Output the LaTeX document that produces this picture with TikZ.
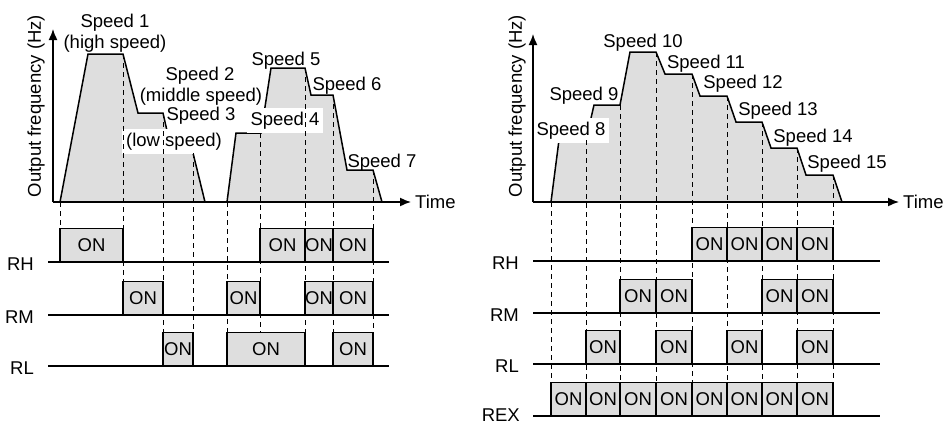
\documentclass[tikz,border=0pt]{standalone}
\usepackage{fontspec}
\setmainfont{Liberation Sans}
\usetikzlibrary{arrows.meta}

\begin{document}
\begin{tikzpicture}[x=1pt,y=-1pt,
  every node/.style={font=\fontsize{18.5}{21}\selectfont, inner sep=1pt},
  axis/.style={line width=1.5pt, -{Latex[length=11pt,width=9pt]}},
  wave/.style={fill=gray!26},
  outline/.style={line width=1.5pt, line join=miter},
  dashline/.style={line width=0.9pt, dash pattern=on 5pt off 4pt},
  sigline/.style={line width=2.4pt},
  onbox/.style={draw, fill=gray!26, line width=1.5pt, inner sep=0pt, minimum height=33pt, anchor=south},
  whitebox/.style={fill=white, inner xsep=4pt, inner ysep=4pt, anchor=base},
  spd/.style={anchor=base}]
\useasboundingbox (0,0) rectangle (946,424);

% left picture: speeds 1 to 7
\fill[wave] (60,202) -- (88,54) -- (123,54) -- (138,113) -- (163,113) -- (172,153) -- (193,153) -- (205,202) -- cycle;
\fill[wave] (227,202) -- (236,133) -- (261,133) -- (271,68) -- (305,68) -- (311,95) -- (333,95) -- (347,170) -- (373,170) -- (382,202) -- cycle;
\draw[outline] (60,202) -- (88,54) -- (123,54) -- (138,113) -- (163,113) -- (172,153) -- (193,153) -- (205,202);
\draw[outline] (227,202) -- (236,133) -- (261,133) -- (271,68) -- (305,68) -- (311,95) -- (333,95) -- (347,170) -- (373,170) -- (382,202);

\node[spd] (s1) at (115,27) {Speed 1};
\node[spd] (s1b) at (115,48) {(high speed)};
\node[spd] (s2) at (200,80) {Speed 2};
\node[spd] (s2b) at (201,101) {(middle speed)};
\node[spd] (s3) at (201,120) {Speed 3};
\node[whitebox] (s3b) at (174,146) {(low speed)};
\node[whitebox] (s4) at (285,125) {Speed 4};
\node[spd] (s5) at (286,65) {Speed 5};
\node[spd] (s6) at (347,90) {Speed 6};
\node[spd] (s7) at (382,167) {Speed 7};

\foreach \x/\t/\b in {60/202/229, 123/54/281, 163/113/332, 193/153/332, 227/202/332,
  260/133/332, 305/68/332, 333/95/332, 373/170/332}
  \draw[dashline] (\x,\t) -- (\x,\b);

\coordinate (lo) at (53,202);
\coordinate (ltop) at (53,29);
\coordinate (lend) at (411,202);
\draw[axis] (lo) -- (ltop);
\draw[axis] (lo) -- (lend);
\node[anchor=west] (ltime) at (414,202) {Time};
\node[rotate=90] (lylab) at (36,106) {Output frequency (Hz)};

\coordinate (lrh0) at (48,262);  \coordinate (lrh1) at (389,262);
\coordinate (lrm0) at (48,315);  \coordinate (lrm1) at (389,315);
\coordinate (lrl0) at (48,366);  \coordinate (lrl1) at (389,366);
\draw[sigline] (lrh0) -- (lrh1);
\draw[sigline] (lrm0) -- (lrm1);
\draw[sigline] (lrl0) -- (lrl1);
\node[anchor=east] (lrh) at (35,264) {RH};
\node[anchor=east] (lrm) at (35,317) {RM};
\node[anchor=east] (lrl) at (35,368) {RL};

\foreach \a/\b [count=\i] in {60/123, 260/305, 305/333, 333/373}
  \node[onbox, minimum width={(\b-\a)*1pt}] (lonh\i) at ({(\a+\b)/2},262) {ON};
\foreach \a/\b [count=\i] in {123/163, 227/260, 305/333, 333/373}
  \node[onbox, minimum width={(\b-\a)*1pt}] (lonm\i) at ({(\a+\b)/2},315) {ON};
\foreach \a/\b [count=\i] in {163/193, 227/305, 333/373}
  \node[onbox, minimum width={(\b-\a)*1pt}] (lonl\i) at ({(\a+\b)/2},366) {ON};

% right picture: speeds 8 to 15
\fill[wave] (551,202) -- (559,140) -- (586,140) -- (594,105) -- (620,105) -- (630,52) -- (656,52) -- (665,74) -- (692,74) -- (700,96) -- (727,96) -- (736,122) -- (762,122) -- (771,148) -- (797,148) -- (806,175) -- (833,175) -- (842,202) -- cycle;
\draw[outline] (551,202) -- (559,140) -- (586,140) -- (594,105) -- (620,105) -- (630,52) -- (656,52) -- (665,74) -- (692,74) -- (700,96) -- (727,96) -- (736,122) -- (762,122) -- (771,148) -- (797,148) -- (806,175) -- (833,175) -- (842,202);

\node[whitebox] (s8) at (571,135) {Speed 8};
\node[spd] (s9) at (584,100) {Speed 9};
\node[spd] (s10) at (643,47) {Speed 10};
\node[spd] (s11) at (706,68) {Speed 11};
\node[spd] (s12) at (743,88) {Speed 12};
\node[spd] (s13) at (778,115) {Speed 13};
\node[spd] (s14) at (813,142) {Speed 14};
\node[spd] (s15) at (847,168) {Speed 15};

\foreach \x/\t in {551/202, 586/140, 620/105, 656/52, 692/74, 727/96, 762/122, 797/148, 833/175}
  \draw[dashline] (\x,\t) -- (\x,383);

\coordinate (ro) at (533,202);
\coordinate (rtop) at (533,34);
\coordinate (rend) at (899,202);
\draw[axis] (ro) -- (rtop);
\draw[axis] (ro) -- (rend);
\node[anchor=west] (rtime) at (902,202) {Time};
\node[rotate=90] (rylab) at (517,106) {Output frequency (Hz)};

\coordinate (rrh0) at (533,261);  \coordinate (rrh1) at (880,261);
\coordinate (rrm0) at (533,313);  \coordinate (rrm1) at (880,313);
\coordinate (rrl0) at (533,364);  \coordinate (rrl1) at (880,364);
\coordinate (rrx0) at (533,416);  \coordinate (rrx1) at (880,416);
\draw[sigline] (rrh0) -- (rrh1);
\draw[sigline] (rrm0) -- (rrm1);
\draw[sigline] (rrl0) -- (rrl1);
\draw[sigline] (rrx0) -- (rrx1);
\node[anchor=east] (rrh) at (520,263) {RH};
\node[anchor=east] (rrm) at (520,315) {RM};
\node[anchor=east] (rrl) at (520,366) {RL};
\node[anchor=base east, inner sep=0pt] (rrx) at (520,421) {REX};

\foreach \a/\b [count=\i] in {692/727, 727/762, 762/797, 797/833}
  \node[onbox, minimum width={(\b-\a)*1pt}] (ronh\i) at ({(\a+\b)/2},261) {ON};
\foreach \a/\b [count=\i] in {620/656, 656/692, 762/797, 797/833}
  \node[onbox, minimum width={(\b-\a)*1pt}] (ronm\i) at ({(\a+\b)/2},313) {ON};
\foreach \a/\b [count=\i] in {586/620, 656/692, 727/762, 797/833}
  \node[onbox, minimum width={(\b-\a)*1pt}] (ronl\i) at ({(\a+\b)/2},364) {ON};
\foreach \a/\b [count=\i] in {551/586, 586/620, 620/656, 656/692, 692/727, 727/762, 762/797, 797/833}
  \node[onbox, minimum width={(\b-\a)*1pt}] (ronx\i) at ({(\a+\b)/2},416) {ON};
\end{tikzpicture}
\end{document}
